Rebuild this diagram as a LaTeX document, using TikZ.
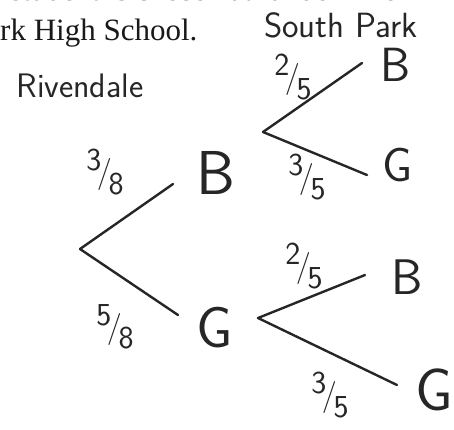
\documentclass[tikz,border=0pt]{standalone}
\usepackage{fontspec}
\newfontfamily\printfont{Liberation Serif}
\usetikzlibrary{positioning}
\tikzset{
  branch/.style={line width=2.4pt,black!85,line cap=round},
  outcome/.style={font=\sffamily\fontsize{#1}{#1}\selectfont,inner sep=0pt,black!85},
  prob/.style={font=\sffamily\fontsize{32}{32}\selectfont,inner sep=0pt,black!85},
  school/.style={font=\sffamily\fontsize{#1}{#1}\selectfont,inner sep=0pt,black!85},
  printed/.style={font=\printfont\fontsize{31}{34}\selectfont,inner sep=0pt,anchor=base west,black!90}
}
\newcommand{\slfrac}[2]{\raisebox{0.36em}{#1}\kern-0.14em/\kern-0.1em\raisebox{-0.36em}{#2}}

\begin{document}
\begin{tikzpicture}[x=1pt,y=-1pt]
  \useasboundingbox (0,0) rectangle (454,429);
  \clip (0,0) rectangle (454,429);
  % printed question, cut at the edges
  \node[printed] (qline1) at (-11.5,0) {a student is chosen at random from R};
  \node[printed] (qline2) at (-31,40) {Park High School.};
  % school headings
  \node[school=34] (riv) at (80,86) {Rivendale};
  \node[school=35] (south) at (341,25) {South Park};
  % first level
  \coordinate (r0) at (80,249);
  \coordinate (r0up) at (173,184);
  \coordinate (r0dn) at (178,315);
  \node[outcome=62] (B1) at (216,173) {B};
  \node[outcome=58] (G1) at (215,328) {G};
  \draw[branch] (r0) -- (r0up);
  \draw[branch] (r0) -- (r0dn);
  \node[prob] (p38) at (105,172) {\slfrac{3}{8}};
  \node[prob] (p58) at (115,327) {\slfrac{5}{8}};
  % second level, after B
  \coordinate (rB) at (263,132);
  \coordinate (rBup) at (362,63);
  \coordinate (rBdn) at (367,175);
  \node[outcome=48] (BB) at (396,65) {B};
  \node[outcome=48] (BG) at (398,165) {G};
  \draw[branch] (rB) -- (rBup);
  \draw[branch] (rB) -- (rBdn);
  \node[prob] (p25a) at (293,77) {\slfrac{2}{5}};
  \node[prob] (p35a) at (307,177) {\slfrac{3}{5}};
  % second level, after G
  \coordinate (rG) at (258,318);
  \coordinate (rGup) at (365,275);
  \coordinate (rGdn) at (397,385);
  \node[outcome=50] (GB) at (407,277) {B};
  \node[outcome=60] (GG) at (434,390) {G};
  \draw[branch] (rG) -- (rGup);
  \draw[branch] (rG) -- (rGdn);
  \node[prob] (p25b) at (304,266) {\slfrac{2}{5}};
  \node[prob] (p35b) at (330,395) {\slfrac{3}{5}};
\end{tikzpicture}
\end{document}
